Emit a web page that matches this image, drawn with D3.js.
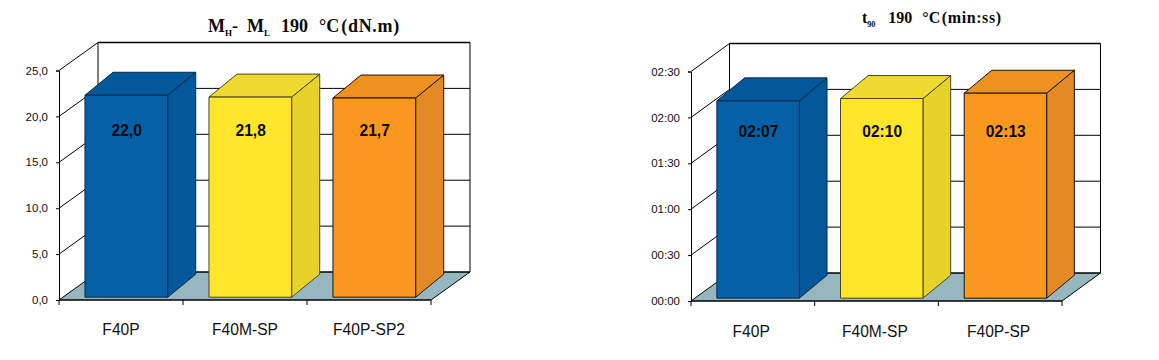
<!DOCTYPE html>
<html><head><meta charset="utf-8">
<script src="https://cdn.jsdelivr.net/npm/d3@7"></script>
<style>html,body{margin:0;padding:0;background:#fff}svg{display:block}</style></head>
<body><svg id="c" width="1159" height="360"></svg>
<script>
const categoriesA = ["F40P","F40M-SP","F40P-SP2"];
const valuesA = [22.0,21.8,21.7];
const labelsA = ["22,0","21,8","21,7"];
const ticksA = [0,5,10,15,20,25];
const categoriesB = ["F40P","F40M-SP","F40P-SP"];
const valuesB = [129,130.5,134]; // seconds, as drawn
const labelsB = ["02:07","02:10","02:13"];
const ticksB = [0,30,60,90,120,150];
const fronts = ["#0560a8","#ffe62a","#f9981f"];
const sides  = ["#03589a","#e6d22a","#e38a26"];
const tops   = ["#03589c","#efdb30","#ef9120"];
const edges  = ["#0b2a48","#4a4520","#1c1408"];
const floorColor = "#96b7bf";
const ink = "#000";

const svg = d3.select("#c");

function chart(o){
  const g = svg.append("g");
  const {x0,x1,y0,y1,dx,dy} = o;
  const y = d3.scaleLinear().domain(o.domain).range([y0,y1]);
  const x = d3.scaleBand().domain(o.cats).range([x0,x1]).paddingInner(1/3).paddingOuter(1/6);
  const line = (a,b,c,d,w)=>g.append("line").attr("x1",a).attr("y1",b).attr("x2",c).attr("y2",d)
     .attr("stroke",ink).attr("stroke-width",w||1);
  // floor
  g.append("polygon").attr("points",[[x0,y0],[x1,y0],[x1+dx,y0-dy],[x0+dx,y0-dy]].join(" "))
    .attr("fill",floorColor);
  // walls and gridlines
  o.ticks.forEach(t=>{
    const v=y(t);
    line(x0,v,x0+dx,v-dy);
    line(x0+dx,v-dy,x1+dx,v-dy, t===o.ticks[0]||t===o.ticks[o.ticks.length-1]?1.5:1);
  });
  line(x0+dx,y1-dy,x0+dx,y0-dy);
  line(x1+dx,y1-dy,x1+dx,y0-dy);
  line(x1,y0,x1+dx,y0-dy);
  // axes
  const ya = d3.axisLeft(y).tickValues(o.ticks).tickFormat(o.fmt).tickSize(3).tickPadding(8);
  const yg = g.append("g").attr("transform",`translate(${x0},0)`).call(ya);
  yg.selectAll("text").attr("font-family","'Liberation Sans'").attr("font-size",11.5).attr("fill","#111");
  yg.selectAll("line,path").attr("stroke",ink);
  const xa = d3.axisBottom(x).tickSize(0).tickPadding(0);
  const xg = g.append("g").attr("transform",`translate(0,${y0})`).call(xa);
  xg.select("path").remove();
  xg.selectAll("text").attr("font-family","'Liberation Sans'").attr("font-size",15.6).attr("fill","#111")
    .attr("dy",null).attr("y",o.labelY-y0).attr("x",o.labelDx);
  const step=(x1-x0)/o.cats.length;
  d3.range(o.cats.length+1).forEach(i=>line(x0+i*step,y0,x0+i*step,y0+5));
  line(x0,y0,x1,y0,1.5);
  // bars
  const bw=x.bandwidth(), fx=dx*0.1+0, fy=dy*0.1, bdx=dx*0.72, bdy=dy*0.82;
  o.cats.forEach((c,i)=>{
    const left=x(c)+fx+1.4, right=left+bw, base=y0-fy, top=y(o.vals[i])-fy;
    const b=g.append("g").attr("stroke",edges[i]).attr("stroke-width",1).attr("stroke-linejoin","round");
    b.append("polygon").attr("points",[[right,base],[right+bdx,base-bdy],[right+bdx,top-bdy],[right,top]].join(" ")).attr("fill",sides[i]);
    b.append("polygon").attr("points",[[left,top],[right,top],[right+bdx,top-bdy],[left+bdx,top-bdy]].join(" ")).attr("fill",tops[i]);
    b.append("rect").attr("x",left).attr("y",top).attr("width",bw).attr("height",base-top).attr("fill",fronts[i]);
    g.append("text").text(o.labels[i]).attr("x",left+bw/2+0.4).attr("y",o.valY)
      .attr("text-anchor","middle").attr("font-family","'Liberation Sans'").attr("font-weight","bold")
      .attr("font-size",15.6).attr("fill","#0a0a0a");
  });
  // title
  const t=g.append("text").attr("x",o.titleX).attr("y",o.titleY)
    .attr("font-family","'Liberation Serif'").attr("font-weight","bold").attr("font-size",o.titleSize).attr("fill","#0a0a0a").attr("xml:space","preserve");
  o.title.forEach(s=>{
    const ts=t.append("tspan").text(s.t).attr("dx",s.dx||0);
    if(s.ls) ts.attr("letter-spacing",s.ls);
    if(s.sub) ts.attr("font-size",o.titleSize*0.5).attr("dy",4); else if(s.back) ts.attr("dy",-4);
  });
}
const secFmt = s=>{const m=Math.floor(s/60);return String(m).padStart(2,"0")+":"+String(s%60).padStart(2,"0");};
chart({cats:categoriesA,vals:valuesA,labels:labelsA,ticks:ticksA,domain:[0,25],
  fmt:v=>d3.format(".1f")(v).replace(".",","),
  x0:59,x1:431,y0:300,y1:70.5,dx:39,dy:28,labelY:335,valY:136,labelDx:0,
  titleX:208,titleY:32,titleSize:18,
  title:[{t:"M"},{t:"H",sub:1},{t:"-",back:1},{t:"M",dx:9},{t:"L",sub:1},{t:"190",dx:11,back:1},{t:"°C",dx:11},{t:"(dN.m)",dx:2,ls:0.7}]});
chart({cats:categoriesB,vals:valuesB,labels:labelsB,ticks:ticksB,domain:[0,150],
  fmt:secFmt,
  x0:691,x1:1062,y0:301,y1:71.5,dx:38.5,dy:28,labelY:337,valY:137,labelDx:-1.6,
  titleX:862,titleY:23,titleSize:16,
  title:[{t:"t"},{t:"90",sub:1},{t:"190",dx:13,back:1},{t:"°C",dx:10},{t:"(min:ss)",dx:1.5,ls:0.6}]});
</script></body></html>
